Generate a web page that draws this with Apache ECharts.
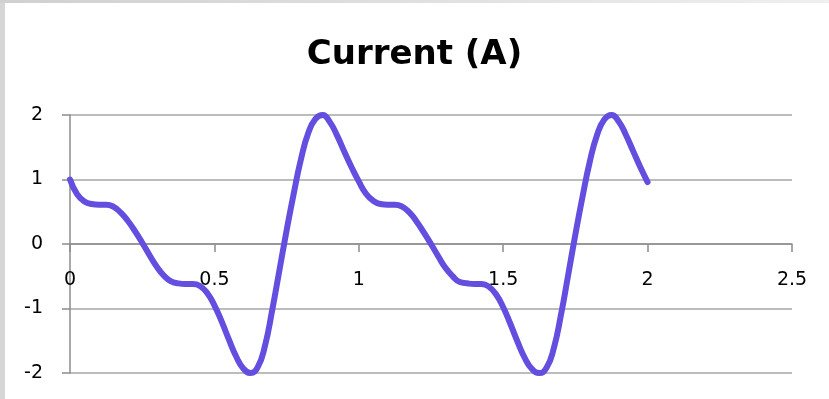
<!DOCTYPE html>
<html>
<head>
<meta charset="utf-8">
<script src="https://cdn.jsdelivr.net/npm/echarts@6/dist/echarts.min.js"></script>
<style>
html,body{margin:0;padding:0;background:#fff;}
#chart{width:829px;height:399px;}
</style>
</head>
<body>
<div id="chart"></div>
<script>
const chartTitle = 'Current (A)';
const timeValues = [
  0, 0.025, 0.05, 0.075, 0.1, 0.125, 0.15, 0.175, 0.2, 0.225,
  0.25, 0.275, 0.3, 0.325, 0.35, 0.375, 0.4, 0.425, 0.45, 0.475,
  0.5, 0.525, 0.55, 0.575, 0.6, 0.625, 0.65, 0.675, 0.7, 0.725,
  0.75, 0.775, 0.8, 0.825, 0.85, 0.875, 0.9, 0.925, 0.95, 0.975,
  1.0, 1.025, 1.05, 1.075, 1.1, 1.125, 1.15, 1.175, 1.2, 1.225,
  1.25, 1.275, 1.3, 1.325, 1.35, 1.375, 1.4, 1.425, 1.45, 1.475,
  1.5, 1.525, 1.55, 1.575, 1.6, 1.625, 1.65, 1.675, 1.7, 1.725,
  1.75, 1.775, 1.8, 1.825, 1.85, 1.875, 1.9, 1.925, 1.95, 1.975, 2.0
];
const currentValues = [
  1.0, 0.77, 0.66, 0.62, 0.61, 0.61, 0.58, 0.49, 0.36, 0.2,
  0.02, -0.17, -0.35, -0.49, -0.58, -0.61, -0.62, -0.62, -0.65, -0.76,
  -0.95, -1.2, -1.48, -1.74, -1.93, -2.0, -1.91, -1.58, -1.03, -0.41,
  0.21, 0.79, 1.32, 1.72, 1.94, 2.0, 1.89, 1.68, 1.43, 1.19,
  0.97, 0.78, 0.67, 0.62, 0.61, 0.61, 0.58, 0.49, 0.35, 0.18,
  0.0, -0.19, -0.37, -0.5, -0.59, -0.61, -0.62, -0.62, -0.66, -0.78,
  -0.98, -1.24, -1.52, -1.77, -1.94, -2.0, -1.92, -1.62, -1.1, -0.48,
  0.15, 0.74, 1.28, 1.69, 1.93, 2.0, 1.9, 1.69, 1.44, 1.19, 0.96
];
const xTicks = { min: 0, max: 2.5, interval: 0.5 };
const yTicks = { min: -2, max: 2, interval: 1 };

const points = timeValues.map((t, i) => [t, currentValues[i]]);
const labelFont = '"DejaVu Sans", Verdana, sans-serif';

const W = 829, H = 399;
const gridBox = { left: 70, right: 37, top: 115, bottom: 26 };
const gridH = H - gridBox.top - gridBox.bottom;
// move the x axis up to the y = 0 line
const xAxisOffset = -gridH * (0 - yTicks.min) / (yTicks.max - yTicks.min);

const axisGray = '#8c8c8c';
const chart = echarts.init(document.getElementById('chart'), null, { renderer: 'canvas' });
chart.setOption({
  animation: false,
  backgroundColor: '#ffffff',
  graphic: [
    { type: 'rect', left: 0, top: 0, shape: { width: 5, height: H }, style: { fill: '#d6d6d6' }, silent: true, z: 100 },
    { type: 'rect', left: 0, top: 0, shape: { width: W, height: 3 },
      style: { fill: new echarts.graphic.LinearGradient(0, 0, 1, 0, [
        { offset: 0, color: '#d0d0d0' }, { offset: 1, color: '#efefef' }]) }, silent: true, z: 100 }
  ],
  title: {
    text: chartTitle,
    left: 'center',
    top: 33,
    textStyle: { fontFamily: labelFont, fontWeight: 'bold', fontSize: 34, color: '#000' }
  },
  grid: Object.assign({ containLabel: false, outerBoundsMode: 'none' }, gridBox),
  xAxis: {
    type: 'value',
    position: 'bottom',
    offset: xAxisOffset,
    min: xTicks.min, max: xTicks.max, interval: xTicks.interval,
    axisLine: { show: true, onZero: false, lineStyle: { color: axisGray, width: 1.5 } },
    axisTick: { show: true, inside: false, length: 8, lineStyle: { color: axisGray, width: 1.5 } },
    axisLabel: { color: '#000', fontFamily: labelFont, fontSize: 19, margin: 27 },
    splitLine: { show: false }
  },
  yAxis: {
    type: 'value',
    min: yTicks.min, max: yTicks.max, interval: yTicks.interval,
    axisLine: { show: true, onZero: false, lineStyle: { color: axisGray, width: 1.5 } },
    axisTick: { show: true, inside: false, length: 8, lineStyle: { color: axisGray, width: 1.5 } },
    axisLabel: { color: '#000', fontFamily: labelFont, fontSize: 19, margin: 27 },
    splitLine: { show: true, lineStyle: { color: '#a6a6a6', width: 1.5 } }
  },
  series: [{
    type: 'line',
    data: points,
    smooth: 0.5,
    showSymbol: false,
    symbol: 'none',
    clip: false,
    lineStyle: { color: '#634ee0', width: 6, cap: 'round', join: 'round' }
  }]
});
</script>
</body>
</html>
